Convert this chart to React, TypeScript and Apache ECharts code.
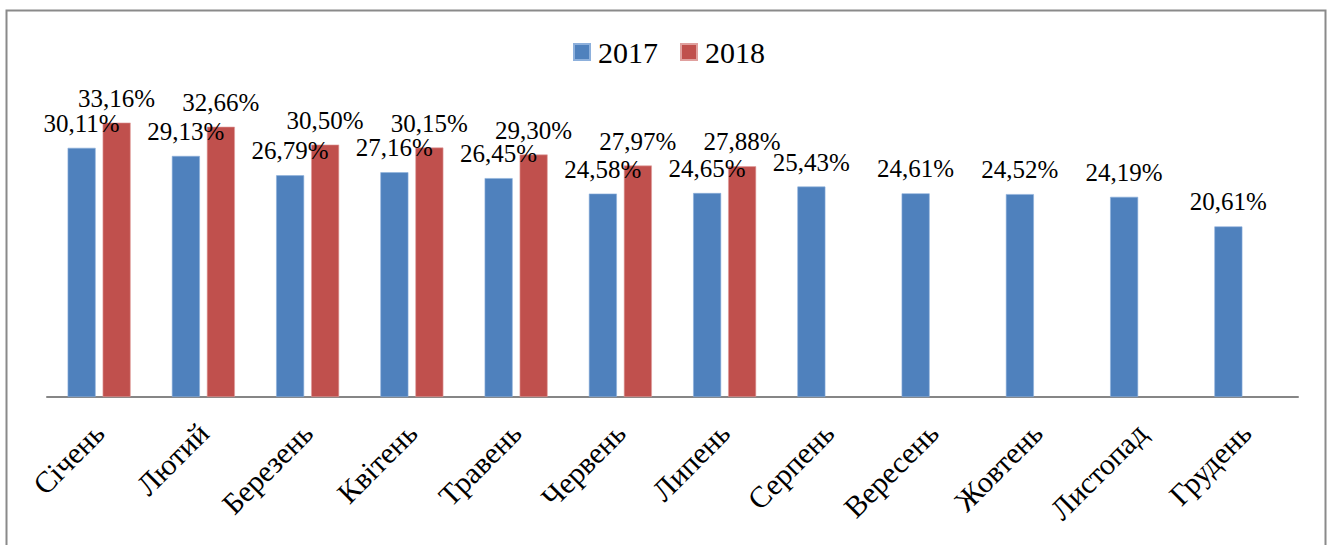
import React, { useEffect, useRef } from "react";
import * as echarts from "echarts";

const months = ["Січень", "Лютий", "Березень", "Квітень", "Травень", "Червень", "Липень", "Серпень", "Вересень", "Жовтень", "Листопад", "Грудень"];
const values2017 = [30.11, 29.13, 26.79, 27.16, 26.45, 24.58, 24.65, 25.43, 24.61, 24.52, 24.19, 20.61];
const values2018: (number | null)[] = [33.16, 32.66, 30.5, 30.15, 29.3, 27.97, 27.88, null, null, null, null, null];
const seriesNames = ["2017", "2018"];

const FONT = "Liberation Serif, Times New Roman, serif";

export default function App() {
  const ref = useRef<HTMLDivElement>(null);
  useEffect(() => {
    if (!ref.current) return;
    const chart = echarts.init(ref.current, null, { renderer: "svg" });
    const fmt = (p: any) => (p.value == null ? "" : Number(p.value).toFixed(2).replace(".", ",") + "%");
    const makeLabel = () => ({
      show: true,
      position: "top" as const,
      distance: 12,
      formatter: fmt,
      fontFamily: FONT,
      fontSize: 25,
      fontWeight: "normal" as const,
      color: "#000",
    });
    chart.setOption({
      animation: false,
      backgroundColor: "#fff",
      textStyle: { fontFamily: FONT },
      graphic: [
        {
          type: "rect",
          shape: { x: 6.5, y: 10.5, width: 1319, height: 560 },
          style: { fill: "none", stroke: "#8a8a8a", lineWidth: 2 },
          silent: true,
        },
      ],
      legend: {
        data: seriesNames,
        left: 568,
        top: 32,
        itemWidth: 16,
        itemHeight: 16,
        itemGap: 22,
        icon: "rect",
        textStyle: { fontFamily: FONT, fontSize: 30, color: "#000", padding: [0, 0, 0, 3] },
      },
      grid: { left: 47, right: 33, top: 66, bottom: 148, containLabel: false },
      xAxis: {
        type: "category",
        data: months,
        axisLine: { lineStyle: { color: "#868686", width: 2 } },
        axisTick: { show: false },
        axisLabel: {
          rotate: 45,
          interval: 0,
          margin: 31,
          fontFamily: FONT,
          fontSize: 30,
          color: "#000",
        },
      },
      yAxis: {
        type: "value",
        min: 0,
        max: 40,
        show: false,
        splitLine: { show: false },
      },
      series: [
        {
          name: seriesNames[0],
          type: "bar",
          data: values2017,
          barWidth: 28,
          barGap: "25%",
          itemStyle: { color: "#4F81BD", borderColor: "#8db0dc", borderWidth: 0.6 },
          label: makeLabel(),
        },
        {
          name: seriesNames[1],
          type: "bar",
          data: values2018,
          barWidth: 28,
          barGap: "25%",
          itemStyle: { color: "#C0504D", borderColor: "#e0a09e", borderWidth: 0.6 },
          label: makeLabel(),
        },
      ],
    });
    return () => chart.dispose();
  }, []);
  return <div ref={ref} style={{ position: "fixed", left: 0, top: 0, width: 1331, height: 545 }} />;
}
